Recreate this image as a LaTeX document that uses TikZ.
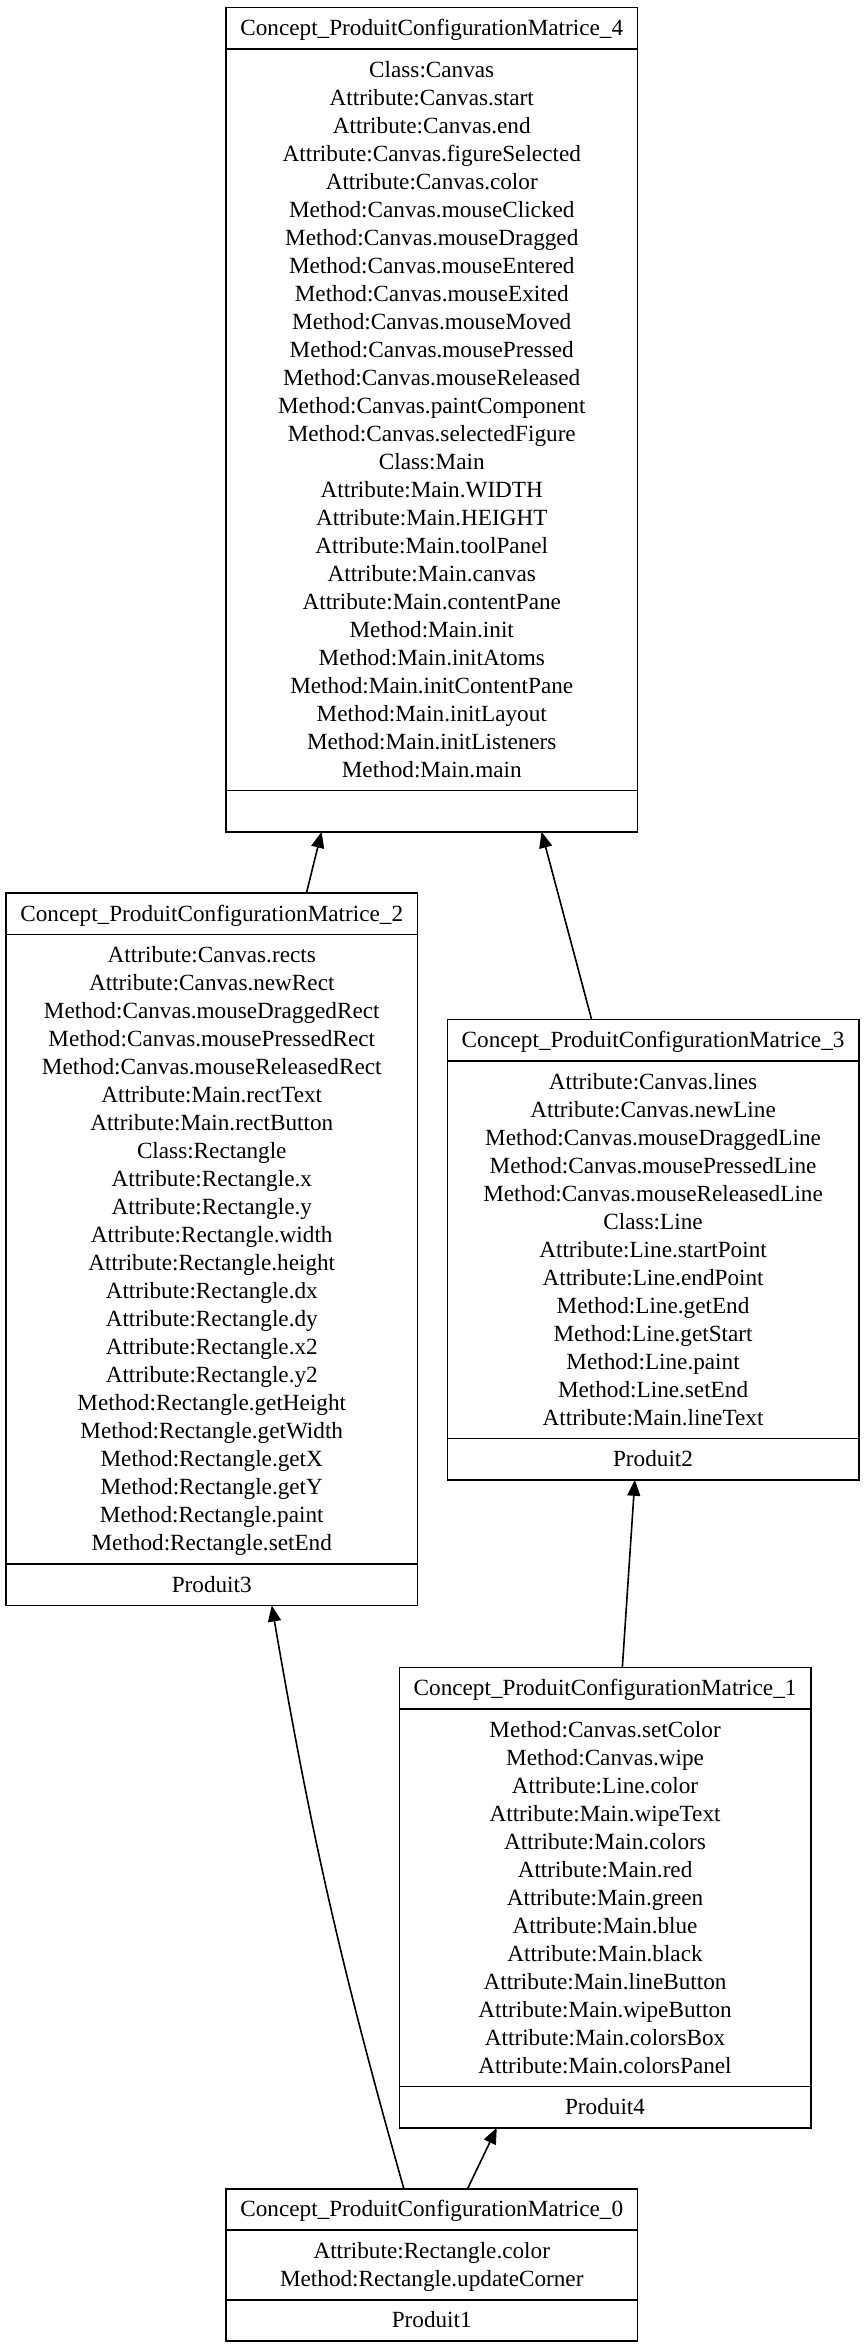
\documentclass[tikz,border=0pt]{standalone}
\usepackage{fontspec}
\setmainfont{Liberation Serif}[Ligatures=NoCommon]
\usetikzlibrary{arrows.meta}
\tikzset{
  umlframe/.style={draw, line width=1.6pt, minimum width=411.5pt, inner sep=0pt, outer sep=0pt},
  umlline/.style={line width=1.6pt},
  umltext/.style={font=\fontsize{23.2}{28}\selectfont, anchor=base, inner sep=0pt},
  arr/.style={-{Triangle[length=16pt,width=13pt]}, line width=1.6pt}
}
\newcommand{\umlbox}[7]{%
  \pgfmathsetmacro{\bh}{28*#5+13.5}%
  \pgfmathsetmacro{\toth}{41.5+\bh+41.5}%
  \node[umlframe, minimum height=\toth pt, anchor=north west] (#1) at (#2,#3) {};
  \draw[umlline] ([yshift=-41.5pt]#1.north west) -- ([yshift=-41.5pt]#1.north east);
  \draw[umlline] ([yshift={-(41.5+\bh)*1pt}]#1.north west) -- ([yshift={-(41.5+\bh)*1pt}]#1.north east);
  \node[umltext] (#1-t) at ([yshift=-28.25pt]#1.north) {#4};
  \foreach \s [count=\i] in {#6} {
    \node[umltext] (#1-b\i) at ([yshift={-(41.5+28*\i+0.25)*1pt}]#1.north) {\s};
  }
  \node[umltext] (#1-f) at ([yshift={-(41.5+\bh+28.25)*1pt}]#1.north) {#7};
}
\begin{document}
\begin{tikzpicture}[x=1pt,y=-1pt]
\useasboundingbox (0,0) rectangle (866,2348);
\umlbox{n4}{226}{7.3}{Concept\_ProduitConfigurationMatrice\_4}{26}{Class:Canvas,Attribute:Canvas.start,Attribute:Canvas.end,Attribute:Canvas.figureSelected,Attribute:Canvas.color,Method:Canvas.mouseClicked,Method:Canvas.mouseDragged,Method:Canvas.mouseEntered,Method:Canvas.mouseExited,Method:Canvas.mouseMoved,Method:Canvas.mousePressed,Method:Canvas.mouseReleased,Method:Canvas.paintComponent,Method:Canvas.selectedFigure,Class:Main,Attribute:Main.WIDTH,Attribute:Main.HEIGHT,Attribute:Main.toolPanel,Attribute:Main.canvas,Attribute:Main.contentPane,Method:Main.init,Method:Main.initAtoms,Method:Main.initContentPane,Method:Main.initLayout,Method:Main.initListeners,Method:Main.main}{}
\umlbox{n2}{6}{893}{Concept\_ProduitConfigurationMatrice\_2}{22}{Attribute:Canvas.rects,Attribute:Canvas.newRect,Method:Canvas.mouseDraggedRect,Method:Canvas.mousePressedRect,Method:Canvas.mouseReleasedRect,Attribute:Main.rectText,Attribute:Main.rectButton,Class:Rectangle,Attribute:Rectangle.x,Attribute:Rectangle.y,Attribute:Rectangle.width,Attribute:Rectangle.height,Attribute:Rectangle.dx,Attribute:Rectangle.dy,Attribute:Rectangle.x2,Attribute:Rectangle.y2,Method:Rectangle.getHeight,Method:Rectangle.getWidth,Method:Rectangle.getX,Method:Rectangle.getY,Method:Rectangle.paint,Method:Rectangle.setEnd}{Produit3}
\umlbox{n3}{447.3}{1019.3}{Concept\_ProduitConfigurationMatrice\_3}{13}{Attribute:Canvas.lines,Attribute:Canvas.newLine,Method:Canvas.mouseDraggedLine,Method:Canvas.mousePressedLine,Method:Canvas.mouseReleasedLine,Class:Line,Attribute:Line.startPoint,Attribute:Line.endPoint,Method:Line.getEnd,Method:Line.getStart,Method:Line.paint,Method:Line.setEnd,Attribute:Main.lineText}{Produit2}
\umlbox{n1}{399.3}{1667.3}{Concept\_ProduitConfigurationMatrice\_1}{13}{Method:Canvas.setColor,Method:Canvas.wipe,Attribute:Line.color,Attribute:Main.wipeText,Attribute:Main.colors,Attribute:Main.red,Attribute:Main.green,Attribute:Main.blue,Attribute:Main.black,Attribute:Main.lineButton,Attribute:Main.wipeButton,Attribute:Main.colorsBox,Attribute:Main.colorsPanel}{Produit4}
\umlbox{n0}{226}{2188.7}{Concept\_ProduitConfigurationMatrice\_0}{2}{Attribute:Rectangle.color,Method:Rectangle.updateCorner}{Produit1}
\draw[arr] ([xshift=94.7pt]n2.north) -- ([xshift=-110.2pt]n4.south);
\draw[arr] ([xshift=-61.5pt]n3.north) -- ([xshift=109.8pt]n4.south);
\draw[arr] ([xshift=17.3pt]n1.north) -- ([xshift=-18.2pt]n3.south);
\draw[arr] ([xshift=35.8pt]n0.north) -- ([xshift=-108.3pt]n1.south);
\draw[arr] ([xshift=-27.9pt]n0.north) to[bend left=3] ([xshift=60pt]n2.south);
\end{tikzpicture}
\end{document}
